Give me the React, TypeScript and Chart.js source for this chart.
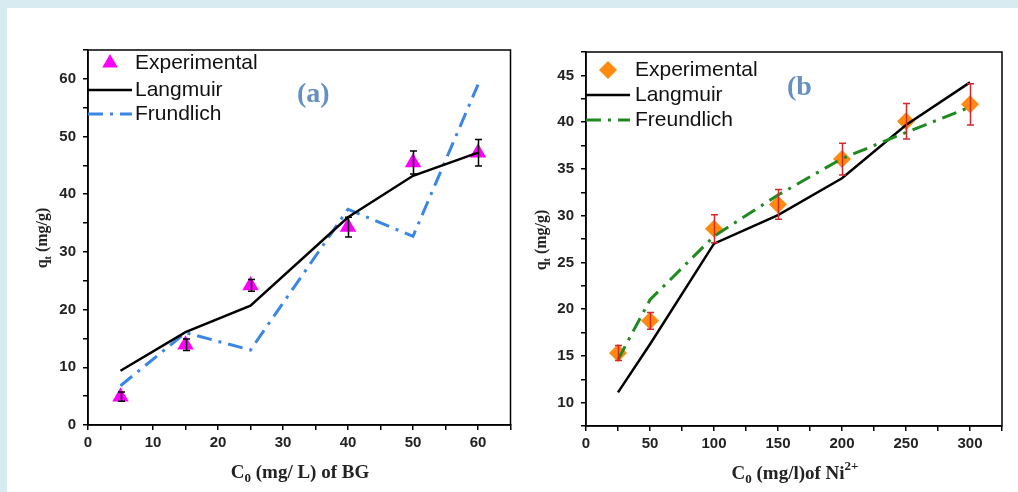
import React, { useEffect, useRef } from 'react';
import { Chart, registerables } from 'chart.js';

Chart.register(...registerables);

// ---- Panel (a): BG ----
const bgConc = [5, 15, 25, 40, 50, 60];
const bgExperimental = [4.9, 13.9, 24.2, 34.3, 45.5, 47.2];
const bgExpError = [0.8, 1.0, 1.0, 1.7, 2.0, 2.3];
const bgLangmuir = [9.4, 16.1, 20.7, 36.0, 43.2, 47.2];
const bgFrundlich = [6.8, 16.0, 13.0, 37.4, 32.7, 59.0];
const bgXTickLabels = [0, 10, 20, 30, 40, 50, 60];
const bgYTickLabels = [0, 10, 20, 30, 40, 50, 60];

// ---- Panel (b): Ni2+ ----
const niConc = [25, 50, 100, 150, 200, 250, 300];
const niExperimental = [15.3, 18.75, 28.6, 31.2, 36.05, 40.1, 41.9];
const niExpError = [0.8, 0.9, 1.5, 1.6, 1.7, 1.9, 2.2];
const niLangmuir = [11.1, 16.25, 27.0, 30.05, 34.0, 39.7, 44.25];
const niFreundlich = [14.6, 21.0, 27.8, 32.2, 36.1, 38.9, 41.6];
const niXTickLabels = [0, 50, 100, 150, 200, 250, 300];
const niYTickLabels = [10, 15, 20, 25, 30, 35, 40, 45];

const SANS = "'Liberation Sans', Arial, sans-serif";
const SERIF = "'Liberation Serif', 'Times New Roman', serif";
const DASH_DOT = [15, 7, 3, 7];

type Part = { t: string; font: string; dy: number };

function drawRich(ctx: CanvasRenderingContext2D, parts: Part[], x: number, y: number) {
  let total = 0;
  parts.forEach((p) => {
    ctx.font = p.font;
    total += ctx.measureText(p.t).width;
  });
  let cx = x - total / 2;
  ctx.textAlign = 'left';
  ctx.textBaseline = 'middle';
  parts.forEach((p) => {
    ctx.font = p.font;
    ctx.fillText(p.t, cx, y + p.dy);
    cx += ctx.measureText(p.t).width;
  });
}

function drawMarker(ctx: CanvasRenderingContext2D, style: string, x: number, y: number, r: number, color: string) {
  ctx.save();
  ctx.fillStyle = color;
  ctx.beginPath();
  if (style === 'triangle') {
    for (let k = 0; k < 3; k++) {
      const a = (k * 2 * Math.PI) / 3;
      const px = x + Math.sin(a) * r;
      const py = y - Math.cos(a) * r;
      if (k === 0) ctx.moveTo(px, py);
      else ctx.lineTo(px, py);
    }
  } else {
    ctx.moveTo(x - r, y);
    ctx.lineTo(x, y - r);
    ctx.lineTo(x + r, y);
    ctx.lineTo(x, y + r);
  }
  ctx.closePath();
  ctx.fill();
  ctx.restore();
}

const overlayPlugin = {
  id: 'overlay',
  afterDatasetsDraw(chart: any, _args: any, opts: any) {
    const { ctx } = chart;
    const xs = chart.scales.x;
    const ys = chart.scales.y;
    ctx.save();
    ctx.strokeStyle = opts.errColor;
    ctx.lineWidth = 1.5;
    opts.xs.forEach((xv: number, i: number) => {
      const px = Math.round(xs.getPixelForValue(xv)) + 0.5;
      const top = ys.getPixelForValue(opts.ys[i] + opts.err[i]);
      const bot = ys.getPixelForValue(opts.ys[i] - opts.err[i]);
      ctx.beginPath();
      ctx.moveTo(px, top);
      ctx.lineTo(px, bot);
      ctx.moveTo(px - 3.5, top);
      ctx.lineTo(px + 3.5, top);
      ctx.moveTo(px - 3.5, bot);
      ctx.lineTo(px + 3.5, bot);
      ctx.stroke();
    });
    ctx.restore();
  },
  afterDraw(chart: any, _args: any, opts: any) {
    const { ctx, chartArea } = chart;
    ctx.save();
    // frame
    ctx.strokeStyle = '#000';
    ctx.lineWidth = 1.5;
    ctx.strokeRect(chartArea.left, chartArea.top, chartArea.right - chartArea.left, chartArea.bottom - chartArea.top);

    // legend
    const lg = opts.legend;
    ctx.textAlign = 'left';
    ctx.textBaseline = 'middle';
    lg.items.forEach((it: any, i: number) => {
      const y = lg.ys[i];
      if (it.marker) {
        drawMarker(ctx, it.marker, lg.markerX, y, it.r, it.color);
      } else {
        ctx.save();
        ctx.strokeStyle = it.color;
        ctx.lineWidth = it.width;
        ctx.setLineDash(it.dash || []);
        ctx.beginPath();
        ctx.moveTo(lg.lineX0, y);
        ctx.lineTo(lg.lineX1, y);
        ctx.stroke();
        ctx.restore();
      }
      ctx.fillStyle = '#111';
      ctx.font = `21px ${SANS}`;
      ctx.fillText(it.text, lg.textX, y);
    });

    // panel label
    ctx.fillStyle = '#6690c4';
    ctx.font = `bold 28px ${SERIF}`;
    ctx.textAlign = 'left';
    ctx.textBaseline = 'middle';
    ctx.fillText(opts.panelLabel.text, opts.panelLabel.x, opts.panelLabel.y);

    // axis titles
    ctx.fillStyle = '#222';
    drawRich(ctx, opts.xTitle.parts, opts.xTitle.x, opts.xTitle.y);
    ctx.save();
    ctx.translate(opts.yTitle.x, opts.yTitle.y);
    ctx.rotate(-Math.PI / 2);
    drawRich(ctx, opts.yTitle.parts, 0, 0);
    ctx.restore();
    ctx.restore();
  },
};

function makeScales(xMin: number, xMax: number, xStep: number, xLabels: number[], yMin: number, yMax: number, yStep: number, yLabels: number[], yWidth: number, xHeight: number) {
  const tickFont = { family: SANS, size: 15, weight: 'bold' as const };
  return {
    x: {
      type: 'linear' as const,
      min: xMin,
      max: xMax,
      afterFit: (s: any) => {
        s.height = xHeight;
      },
      border: { display: true, color: '#000', width: 1.5 },
      grid: { display: true, drawOnChartArea: false, drawTicks: true, tickLength: 5, color: '#000', lineWidth: 1.5 },
      ticks: {
        stepSize: xStep,
        autoSkip: false,
        maxRotation: 0,
        padding: 4,
        color: '#222',
        font: tickFont,
        callback: (v: any) => (xLabels.includes(Number(v)) ? String(v) : ''),
      },
    },
    y: {
      type: 'linear' as const,
      min: yMin,
      max: yMax,
      afterFit: (s: any) => {
        s.width = yWidth;
      },
      border: { display: true, color: '#000', width: 1.5 },
      grid: { display: true, drawOnChartArea: false, drawTicks: true, tickLength: 5, color: '#000', lineWidth: 1.5 },
      ticks: {
        stepSize: yStep,
        autoSkip: false,
        padding: 7,
        color: '#222',
        font: tickFont,
        callback: (v: any) => (yLabels.includes(Number(v)) ? String(v) : ''),
      },
    },
  };
}

const pts = (xs: number[], ys: number[]) => xs.map((x, i) => ({ x, y: ys[i] }));

export default function App() {
  const refA = useRef<HTMLCanvasElement>(null);
  const refB = useRef<HTMLCanvasElement>(null);

  useEffect(() => {
    const titleFont = `bold 19px ${SERIF}`;
    const subFont = `bold 13px ${SERIF}`;

    const chartA = new Chart(refA.current as HTMLCanvasElement, {
      type: 'scatter',
      data: {
        datasets: [
          {
            label: 'Langmuir',
            data: pts(bgConc, bgLangmuir),
            showLine: true,
            borderColor: '#000',
            borderWidth: 2.5,
            pointRadius: 0,
            tension: 0,
            order: 1,
          },
          {
            label: 'Frundlich',
            data: pts(bgConc, bgFrundlich),
            showLine: true,
            borderColor: '#3a86e6',
            borderWidth: 3,
            borderDash: DASH_DOT,
            pointRadius: 0,
            tension: 0,
            order: 2,
          },
          {
            label: 'Experimental',
            data: pts(bgConc, bgExperimental),
            showLine: false,
            pointStyle: 'triangle',
            pointRadius: 9.5,
            backgroundColor: '#ff00ff',
            borderColor: '#ff00ff',
            borderWidth: 0,
            order: 3,
          },
        ],
      },
      options: {
        responsive: false,
        animation: false,
        layout: { padding: { left: 0, top: 50, right: 7, bottom: 0 } },
        plugins: {
          legend: { display: false },
          tooltip: { enabled: false },
          overlay: {
            xs: bgConc,
            ys: bgExperimental,
            err: bgExpError,
            errColor: '#000',
            legend: {
              markerX: 110,
              lineX0: 88,
              lineX1: 132,
              textX: 135,
              ys: [63, 90, 114],
              items: [
                { text: 'Experimental', marker: 'triangle', r: 9, color: '#ff00ff' },
                { text: 'Langmuir', color: '#000', width: 2.5 },
                { text: 'Frundlich', color: '#3a86e6', width: 3, dash: DASH_DOT },
              ],
            },
            panelLabel: { text: '(a)', x: 297, y: 95 },
            xTitle: {
              x: 300,
              y: 473,
              parts: [
                { t: 'C', font: titleFont, dy: 0 },
                { t: '0', font: subFont, dy: 6 },
                { t: ' (mg/ L) of BG', font: titleFont, dy: 0 },
              ],
            },
            yTitle: {
              x: 43,
              y: 238,
              parts: [
                { t: 'q', font: `bold 16px ${SERIF}`, dy: 0 },
                { t: 't', font: `bold 10px ${SERIF}`, dy: 5 },
                { t: ' (mg/g)', font: `bold 16px ${SERIF}`, dy: 0 },
              ],
            },
          },
        } as any,
        scales: makeScales(0, 65, 5, bgXTickLabels, 0, 65, 5, bgYTickLabels, 88, 67) as any,
      },
      plugins: [overlayPlugin],
    });

    const chartB = new Chart(refB.current as HTMLCanvasElement, {
      type: 'scatter',
      data: {
        datasets: [
          {
            label: 'Langmuir',
            data: pts(niConc, niLangmuir),
            showLine: true,
            borderColor: '#000',
            borderWidth: 2.5,
            pointRadius: 0,
            tension: 0,
            order: 2,
          },
          {
            label: 'Freundlich',
            data: pts(niConc, niFreundlich),
            showLine: true,
            borderColor: '#1f8a1f',
            borderWidth: 3,
            borderDash: DASH_DOT,
            pointRadius: 0,
            tension: 0,
            order: 1,
          },
          {
            label: 'Experimental',
            data: pts(niConc, niExperimental),
            showLine: false,
            pointStyle: 'rectRot',
            pointRadius: 9,
            backgroundColor: '#ff8a10',
            borderColor: '#ff8a10',
            borderWidth: 0,
            order: 3,
          },
        ],
      },
      options: {
        responsive: false,
        animation: false,
        layout: { padding: { left: 0, top: 52, right: 16, bottom: 0 } },
        plugins: {
          legend: { display: false },
          tooltip: { enabled: false },
          overlay: {
            xs: niConc,
            ys: niExperimental,
            err: niExpError,
            errColor: '#d9262c',
            legend: {
              markerX: 88,
              lineX0: 66,
              lineX1: 110,
              textX: 115,
              ys: [70, 95, 120],
              items: [
                { text: 'Experimental', marker: 'diamond', r: 9, color: '#ff8a10' },
                { text: 'Langmuir', color: '#000', width: 2.5 },
                { text: 'Freundlich', color: '#1f8a1f', width: 3, dash: DASH_DOT },
              ],
            },
            panelLabel: { text: '(b', x: 267, y: 88 },
            xTitle: {
              x: 275,
              y: 474,
              parts: [
                { t: 'C', font: titleFont, dy: 0 },
                { t: '0', font: subFont, dy: 6 },
                { t: ' (mg/l)of Ni', font: titleFont, dy: 0 },
                { t: '2+', font: subFont, dy: -7 },
              ],
            },
            yTitle: {
              x: 22,
              y: 240,
              parts: [
                { t: 'q', font: `bold 16px ${SERIF}`, dy: 0 },
                { t: 't', font: `bold 10px ${SERIF}`, dy: 5 },
                { t: ' (mg/g)', font: `bold 16px ${SERIF}`, dy: 0 },
              ],
            },
          },
        } as any,
        scales: makeScales(0, 325, 25, niXTickLabels, 7.5, 47.5, 2.5, niYTickLabels, 66, 66) as any,
      },
      plugins: [overlayPlugin],
    });

    return () => {
      chartA.destroy();
      chartB.destroy();
    };
  }, []);

  return (
    <div
      style={{
        position: 'fixed',
        left: 0,
        top: 0,
        width: 1018,
        height: 492,
        background: '#d7ebf1',
        overflow: 'hidden',
      }}
    >
      <div style={{ position: 'absolute', left: 7, top: 8, right: 0, bottom: 0, background: '#fff' }} />
      <canvas ref={refA} width={520} height={492} style={{ position: 'absolute', left: 0, top: 0, display: 'block' }} />
      <canvas ref={refB} width={498} height={492} style={{ position: 'absolute', left: 520, top: 0, display: 'block' }} />
    </div>
  );
}
